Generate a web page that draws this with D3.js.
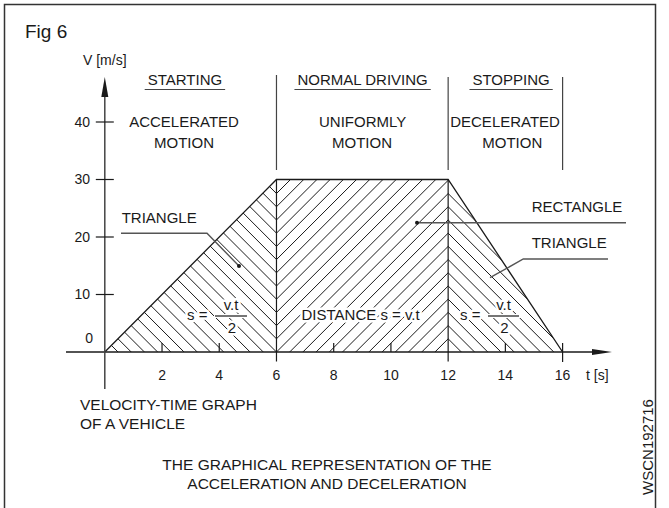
<!DOCTYPE html>
<html>
<head>
<meta charset="utf-8">
<script src="https://cdn.jsdelivr.net/npm/d3@7"></script>
<style>
  html, body { margin: 0; padding: 0; background: #fff; }
  svg { display: block; font-family: "Liberation Sans", Arial, Helvetica, sans-serif; }
</style>
</head>
<body>
<svg id="chart" width="669" height="508"></svg>
<script>
// Velocity-time profile of the vehicle: time [s] and speed [m/s] at each corner
const timeValues = [0, 6, 12, 16];
const speedValues = [0, 30, 30, 0];

// Axis ticks
const timeTicks = [2, 4, 6, 8, 10, 12, 14, 16];
const speedTicks = [0, 10, 20, 30, 40];

// Driving phases (start/end time) and their captions
const phaseNames = ["STARTING", "NORMAL DRIVING", "STOPPING"];
const phaseMotion = [["ACCELERATED", "MOTION"], ["UNIFORMLY", "MOTION"], ["DECELERATED", "MOTION"]];
const phaseStart = [0, 6, 12];
const phaseEnd = [6, 12, 16];

const W = 669, H = 508;
const svg = d3.select("#chart");
const ink = "#1a1a1a";
const font = 15;

const x = d3.scaleLinear().domain([0, 16]).range([104.8, 562.6]);
const y = d3.scaleLinear().domain([0, 30]).range([352, 179.5]);

// outer frame
svg.append("rect")
  .attr("x", 4.5).attr("y", 4.5).attr("width", 651).attr("height", H + 4)
  .attr("fill", "none").attr("stroke", "#333").attr("stroke-width", 1.5);

svg.append("text").attr("x", 25).attr("y", 38)
  .attr("font-size", 19).attr("fill", ink).text("Fig 6");

const pts = timeValues.map((t, i) => [x(t), y(speedValues[i])]);

// ---- hatching -------------------------------------------------------------
const defs = svg.append("defs");
const step = 2 * (x(12) - x(6)) / 26;     // hatch pitch, chevrons meet on t=6 and t=12
const phaseA = y(0) - x(6);               // "\" lines:  y - x = phaseA + k*step
const phaseB = phaseA + 2 * x(6);         // "/" lines:  y + x = phaseB + k*step

function hatchRegion(id, poly, dir) {
  defs.append("clipPath").attr("id", id)
    .append("polygon").attr("points", poly.map(p => p.join(",")).join(" "));
  const xs = poly.map(p => p[0]), ys = poly.map(p => p[1]);
  const x0 = d3.min(xs) - 2, x1 = d3.max(xs) + 2;
  const y0 = d3.min(ys) - 2, y1 = d3.max(ys) + 2;
  const lines = [];
  if (dir > 0) {              // "\" : y = x + c
    const base = phaseA;
    const cMin = y0 - x1, cMax = y1 - x0;
    for (let k = Math.floor((cMin - base) / step); base + k * step <= cMax; k++) {
      const c = base + k * step;
      lines.push([x0, x0 + c, x1, x1 + c]);
    }
  } else {                    // "/" : y = -x + c
    const base = phaseB;
    const cMin = y0 + x0, cMax = y1 + x1;
    for (let k = Math.floor((cMin - base) / step); base + k * step <= cMax; k++) {
      const c = base + k * step;
      lines.push([x0, c - x0, x1, c - x1]);
    }
  }
  svg.append("g").attr("clip-path", `url(#${id})`)
    .selectAll("line").data(lines).join("line")
    .attr("x1", d => d[0]).attr("y1", d => d[1])
    .attr("x2", d => d[2]).attr("y2", d => d[3])
    .attr("stroke", ink).attr("stroke-width", 1);
}

hatchRegion("accel", [pts[0], pts[1], [pts[1][0], y(0)]], 1);
hatchRegion("cruise", [[pts[1][0], y(0)], pts[1], pts[2], [pts[2][0], y(0)]], -1);
hatchRegion("decel", [[pts[2][0], y(0)], pts[2], pts[3]], 1);

// ---- profile outline ------------------------------------------------------
svg.append("path")
  .attr("d", d3.line()(pts))
  .attr("fill", "none").attr("stroke", ink).attr("stroke-width", 1.3);

// phase boundaries inside the graph
[6, 12].forEach(t => {
  svg.append("line")
    .attr("x1", x(t)).attr("x2", x(t)).attr("y1", y(30)).attr("y2", y(0) + 9.5)
    .attr("stroke", ink).attr("stroke-width", 1.2);
});

// ---- axes -----------------------------------------------------------------
// time axis
svg.append("line").attr("x1", 66).attr("x2", 594).attr("y1", y(0)).attr("y2", y(0))
  .attr("stroke", ink).attr("stroke-width", 1.3);
svg.append("path")
  .attr("d", `M${612},${y(0)} L${592},${y(0) - 3} L${592},${y(0) + 3} Z`)
  .attr("fill", ink);
// speed axis
svg.append("line").attr("x1", x(0)).attr("x2", x(0)).attr("y1", 95).attr("y2", 389)
  .attr("stroke", "#444").attr("stroke-width", 1.5);
svg.append("path")
  .attr("d", `M${x(0)},77 L${x(0) - 3.5},97 L${x(0) + 3.5},97 Z`)
  .attr("fill", ink);

// time ticks and labels
timeTicks.forEach(t => {
  if (t !== 6 && t !== 12) {
    svg.append("line")
      .attr("x1", x(t)).attr("x2", x(t))
      .attr("y1", y(0) - 9).attr("y2", t === 16 ? y(0) + 10 : y(0))
      .attr("stroke", ink).attr("stroke-width", 1.2);
  }
  svg.append("text").attr("x", x(t)).attr("y", 380)
    .attr("text-anchor", "middle").attr("font-size", 14).attr("fill", ink)
    .text(t);
});
svg.append("text").attr("x", 586).attr("y", 380)
  .attr("font-size", 14).attr("fill", ink).text("t [s]");

// speed ticks and labels
speedTicks.forEach(v => {
  if (v === 0) {
    svg.append("text").attr("x", 93).attr("y", y(0) - 9)
      .attr("text-anchor", "end").attr("font-size", 14).attr("fill", ink).text(v);
    return;
  }
  svg.append("line")
    .attr("x1", x(0) - 9).attr("x2", x(0) + 9).attr("y1", y(v)).attr("y2", y(v))
    .attr("stroke", ink).attr("stroke-width", 1.2);
  svg.append("text").attr("x", 90).attr("y", y(v)).attr("dy", "0.35em")
    .attr("text-anchor", "end").attr("font-size", 14).attr("fill", ink).text(v);
});
svg.append("text").attr("x", 83).attr("y", 65)
  .attr("font-size", 14).attr("fill", ink).text("V [m/s]");

// ---- phase headings -------------------------------------------------------
const headCentre = [2.8, 9.01, 14.2];
const motionCentre = [[2.77, 2.77], [9.01, 8.99], [13.99, 14.24]];
phaseNames.forEach((name, i) => {
  const cx = x(headCentre[i]);
  const t = svg.append("text").attr("x", cx).attr("y", 85)
    .attr("text-anchor", "middle").attr("font-size", font).attr("fill", ink).text(name);
  const w = t.node().getComputedTextLength();
  svg.append("line").attr("x1", cx - w / 2 - 3).attr("x2", cx + w / 2 + 3)
    .attr("y1", 89.5).attr("y2", 89.5).attr("stroke", "#444").attr("stroke-width", 1);
  phaseMotion[i].forEach((m, j) => {
    svg.append("text").attr("x", x(motionCentre[i][j])).attr("y", 127 + j * 21)
      .attr("text-anchor", "middle").attr("font-size", font).attr("fill", ink).text(m);
  });
});
// dividers between the phase captions
phaseEnd.forEach((t, i) => {
  svg.append("line").attr("x1", x(t)).attr("x2", x(t))
    .attr("y1", i === 0 ? 75 : 77).attr("y2", 170)
    .attr("stroke", "#444").attr("stroke-width", 1.2);
});

// ---- callouts -------------------------------------------------------------
const lead = "#555";
function label(txt, px, py, anchor, halo, size) {
  const t = svg.append("text").attr("x", px).attr("y", py)
    .attr("text-anchor", anchor || "start").attr("font-size", size || font)
    .attr("fill", ink).text(txt);
  if (halo) t.attr("stroke", "#fff").attr("stroke-width", 5).attr("paint-order", "stroke")
    .attr("stroke-linejoin", "round");
  return t;
}
function leader(points, dot) {
  svg.append("path").attr("d", d3.line()(points))
    .attr("fill", "none").attr("stroke", lead).attr("stroke-width", 1.4);
  if (dot) svg.append("circle").attr("cx", points[0][0]).attr("cy", points[0][1])
    .attr("r", 2).attr("fill", ink);
}

label("TRIANGLE", 121.7, 223);
leader([[239, 266], [207, 233.3], [121, 233.3]], true);

label("RECTANGLE", 531.7, 212);
leader([[417, 222.7], [626, 222.7]], true);

label("TRIANGLE", 531.7, 248);
leader([[490, 277.7], [523.3, 259], [608, 259]], false);

// area formulas
function fraction(sx, barX0, barX1) {
  label("s =", sx, 320, "start", true);
  svg.append("rect").attr("x", barX0 - 1).attr("y", 314).attr("width", barX1 - barX0 + 2)
    .attr("height", 4).attr("fill", "#fff");
  svg.append("line").attr("x1", barX0).attr("x2", barX1).attr("y1", 316).attr("y2", 316)
    .attr("stroke", ink).attr("stroke-width", 1.2);
  const c = (barX0 + barX1) / 2;
  label("v.t", c, 310, "middle", true);
  label("2", c + 1, 332.5, "middle", true);
}
fraction(187, 215, 247);
fraction(460, 488, 519);
label("DISTANCE s = v.t", x(8.94), 320, "middle", true);

// ---- captions -------------------------------------------------------------
label("VELOCITY-TIME GRAPH", 80, 410, "start", false, 15.5);
label("OF A VEHICLE", 80, 429, "start", false, 15.5);
label("THE GRAPHICAL REPRESENTATION OF THE", 327, 470, "middle", false, 15.5);
label("ACCELERATION AND DECELERATION", 327, 489, "middle", false, 15.5);

svg.append("text")
  .attr("transform", "translate(653,447) rotate(-90)")
  .attr("text-anchor", "middle").attr("font-size", 15).attr("fill", ink)
  .text("WSCN192716");
</script>
</body>
</html>
